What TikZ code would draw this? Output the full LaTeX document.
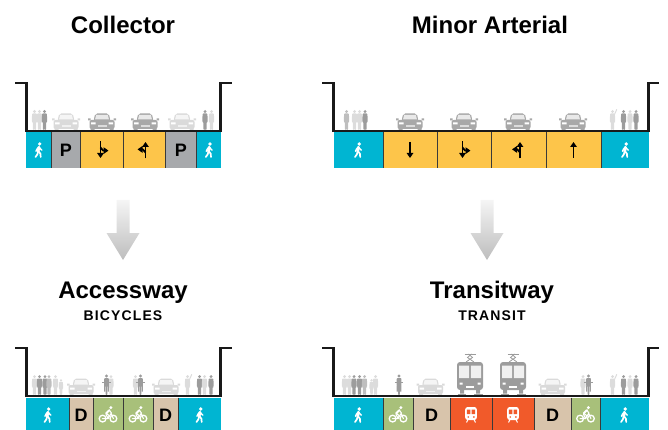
\documentclass[tikz,border=0pt]{standalone}
\usepackage{fontspec}
\setmainfont{Liberation Sans}
\newfontfamily\trackedfont[LetterSpace=8]{Liberation Sans}
\usetikzlibrary{arrows.meta}

\definecolor{pedblue}{HTML}{00B5D2}
\definecolor{parkgray}{HTML}{A7A9AC}
\definecolor{laneyellow}{HTML}{FDC54A}
\definecolor{droptan}{HTML}{D8C4AB}
\definecolor{bikegreen}{HTML}{A8C07A}
\definecolor{transitorange}{HTML}{F15A2A}
\definecolor{sepline}{HTML}{3A3A3A}
\definecolor{figlight}{HTML}{DCDCDC}
\definecolor{figmid}{HTML}{BEBEBE}
\definecolor{figdark}{HTML}{9C9C9C}
\definecolor{carlight}{HTML}{DADADA}
\definecolor{carmid}{HTML}{A8A8A8}
\definecolor{arrowgray}{HTML}{BDBDBD}

\tikzset{
  street/.style={line width=2.8pt, black!90, line join=miter},
  cellsep/.style={line width=0.8pt, sepline},
  title/.style={font=\fontsize{24}{28}\selectfont\bfseries, anchor=base, inner sep=0pt},
  subtitle/.style={font=\fontsize{14}{16}\selectfont\trackedfont\bfseries, anchor=base, inner sep=0pt},
  letterbox/.style={font=\fontsize{18}{20}\selectfont\bfseries, inner sep=0pt},
  lanearrow/.style={line width=1.8pt, line join=round, -{Triangle[length=5pt,width=6.5pt]}},
  pics/person/.style={code={
    \fill[#1] (0,-18.4) circle (1.6pt);
    \fill[#1, rounded corners=0.8pt] (-2.4,-16.5) -- (2.4,-16.5) -- (2.7,-8) -- (1.7,-8)
      -- (1.5,0) -- (0.2,0) -- (0,-6) -- (-0.2,0) -- (-1.5,0) -- (-1.7,-8) -- (-2.7,-8) -- cycle;
  }},
  pics/waver/.style={code={
    \pic {person=#1};
    \draw[#1, line width=1pt, line cap=round] (2,-15.5) -- (4.2,-20.5);
  }},
  pics/rider/.style={code={
    \fill[#1] (0,-19) circle (1.6pt);
    \fill[#1, rounded corners=0.8pt] (-2.3,-17) rectangle (2.3,-8.5);
    \draw[#1, line width=0.8pt] (-4.2,-12.5) -- (4.2,-12.5);
    \fill[#1, rounded corners=0.8pt] (-0.9,-10) rectangle (0.9,0);
    \fill[#1] (-2.3,-9) rectangle (-1.2,-3.5) (1.2,-9) rectangle (2.3,-3.5);
  }},
  pics/car/.style={code={
    \fill[#1, rounded corners=2pt] (-8.5,-9) -- (-6.8,-16.5) -- (6.8,-16.5) -- (8.5,-9) -- cycle;
    \fill[#1, rounded corners=2pt] (-12.5,-10) rectangle (12.5,-1);
    \fill[#1] (-11.5,-2) rectangle (-7.5,1) (7.5,-2) rectangle (11.5,1);
    \fill[#1] (-14,-11.5) rectangle (-11.5,-9.5) (11.5,-11.5) rectangle (14,-9.5);
    \fill[white, opacity=0.75] (-7,-10.5) -- (-5.8,-15) -- (5.8,-15) -- (7,-10.5) -- cycle;
    \fill[white] (-11,-7.5) rectangle (-6.5,-5.5) (6.5,-7.5) rectangle (11,-5.5);
    \fill[white, opacity=0.6] (-4.5,-4.5) rectangle (4.5,-3);
  }},
  pics/tram/.style={code={
    \draw[#1, line width=0.8pt] (-4,-33) -- (2.5,-37.5) -- (-1.5,-41);
    \draw[#1, line width=0.8pt] (4,-33) -- (-2.5,-37.5) -- (1.5,-41);
    \draw[#1, line width=0.9pt] (-5.5,-41) -- (5.5,-41);
    \fill[#1, rounded corners=3pt] (-13,-33) rectangle (13,-5);
    \fill[white, opacity=.85] (-11,-29.5) rectangle (-0.8,-17) (0.8,-29.5) rectangle (11,-17);
    \fill[white] (-10.5,-12.5) rectangle (-7.5,-10.5) (7.5,-12.5) rectangle (10.5,-10.5);
    \fill[white] (-4,-9.5) rectangle (4,-7.5);
    \fill[#1] (-10,-5) rectangle (-6,-1.5) (6,-5) rectangle (10,-1.5);
    \draw[#1, line width=.8pt] (-12.5,-1) -- (-4,-1) (4,-1) -- (12.5,-1);
  }},
  pics/walker/.style={code={
    \fill[white] (1.2,-6) circle (1.8pt);
    \draw[white, line width=2.8pt, line cap=round] (0.4,-2.8) -- (-0.3,1.2);
    \draw[white, line width=1.4pt, line cap=round, line join=round] (0.2,-2.8) -- (-1.7,-0.6) -- (-2.5,1.3);
    \draw[white, line width=1.4pt, line cap=round, line join=round] (0.6,-2.8) -- (2.1,-1) -- (3.4,0.2);
    \draw[white, line width=1.7pt, line cap=round, line join=round] (-0.2,1) -- (1.9,3.7) -- (2.2,7);
    \draw[white, line width=1.7pt, line cap=round, line join=round] (-0.3,1) -- (-1.1,4.3) -- (-3,7);
  }},
  pics/bike/.style={code={
    \draw[white, line width=1.3pt] (-5.4,3.6) circle (3.4pt) (5.4,3.6) circle (3.4pt);
    \draw[white, line width=1.1pt, line join=round, line cap=round]
      (-5.4,3.6) -- (0,3.6) -- (3.2,-1.6) -- (5.4,3.6) (0,3.6) -- (-2,-0.8);
    \draw[white, line width=2pt, line cap=round] (-1.8,-1.6) -- (1.3,-4.8);
    \draw[white, line width=1.1pt, line cap=round] (1.3,-4.8) -- (3.4,-2);
    \draw[white, line width=1.1pt, line cap=round, line join=round] (-1.8,-1.6) -- (1.2,0.6) -- (0,3.6);
    \fill[white] (2.9,-7.4) circle (1.6pt);
  }},
  pics/train/.style={code={
    \fill[white, rounded corners=2.5pt] (-5.8,-8) rectangle (5.8,5);
    \fill[transitorange] (-4.2,-5.5) rectangle (-0.6,-1) (0.6,-5.5) rectangle (4.2,-1);
    \fill[transitorange] (-2.8,2) circle (0.95pt) (2.8,2) circle (0.95pt);
    \draw[white, line width=1pt] (-3,4.5) -- (-4.5,7.5) (3,4.5) -- (4.5,7.5);
  }},
  pics/arrowdown/.style={code={\draw[lanearrow] (0,-8) -- (0,8);}},
  pics/arrowup/.style={code={\draw[lanearrow] (0,8) -- (0,-8);}},
  pics/arrowdownright/.style={code={
    \draw[lanearrow] (0,-8.5) -- (0,8);
    \draw[lanearrow] (0,-2.5) -- (2.6,0.6) -- (8,0.6);
  }},
  pics/arrowupleft/.style={code={
    \draw[lanearrow] (0,8.5) -- (0,-8);
    \draw[lanearrow] (0,2.5) -- (-2.6,-0.6) -- (-8,-0.6);
  }},
}

\begin{document}
\begin{tikzpicture}[x=1pt, y=-1pt]
\useasboundingbox (0,0) rectangle (668,430);

% ---------- titles ----------
\node[title] (tcollector) at (123,34) {Collector};
\node[title] (tminor) at (490,34) {Minor Arterial};
\node[title] (taccess) at (123,298) {Accessway};
\node[subtitle] (saccess) at (123,320) {BICYCLES};
\node[title] (ttransit) at (492,298) {Transitway};
\node[subtitle] (stransit) at (492,320) {TRANSIT};

% ---------- transition arrows ----------
\foreach \ax in {123,487} {
  \shade[top color=white!96!black, bottom color=arrowgray]
    (\ax-6.5,200) -- (\ax+6.5,200) -- (\ax+6.5,233) -- (\ax+16.5,233)
    -- (\ax,260) -- (\ax-16.5,233) -- (\ax-6.5,233) -- cycle;
}

% ---------- Collector ----------
\foreach \xa/\xb/\cc in {26/51/pedblue, 51/80.5/parkgray, 80.5/123/laneyellow,
    123/165/laneyellow, 165/196.5/parkgray, 196.5/221/pedblue}
  \fill[\cc] (\xa,132.5) rectangle (\xb,168);
\foreach \xs in {51,80.5,123,165,196.5}
  \draw[cellsep] (\xs,132.5) -- (\xs,168);
\foreach \px/\pc in {34.5/figlight, 39.5/figlight, 44.5/figdark, 205/figdark, 211.5/figlight}
  \pic at (\px,130) {person=\pc};
\foreach \cx/\cc in {66/carlight, 102/carmid, 145/carmid, 182/carlight}
  \pic at (\cx,130) {car=\cc};
\draw[street] (15,83) -- (26.5,83) -- (26.5,131) -- (220.5,131) -- (220.5,83) -- (232,83);
\pic at (38.5,150) {walker};
\node[letterbox] (cp1) at (65.8,150) {P};
\pic at (100.5,150) {arrowdownright};
\pic at (145.5,150) {arrowupleft};
\node[letterbox] (cp2) at (180.8,150) {P};
\pic at (208.8,150) {walker};

% ---------- Minor Arterial ----------
\foreach \xa/\xb/\cc in {333.5/383/pedblue, 383/437/laneyellow, 437/491/laneyellow,
    491/546/laneyellow, 546/601/laneyellow, 601/648.5/pedblue}
  \fill[\cc] (\xa,132.5) rectangle (\xb,168);
\foreach \xs in {383,437,491,546,601}
  \draw[cellsep] (\xs,132.5) -- (\xs,168);
\foreach \px/\pc in {346.5/figmid, 354.5/figlight, 359.5/figlight, 365/figdark,
    623.5/figdark, 630/figlight, 636/figdark}
  \pic at (\px,130) {person=\pc};
\pic at (612.5,130) {waver=figlight};
\foreach \cx in {410,464,518,573}
  \pic at (\cx,130) {car=carmid};
\draw[street] (322,83) -- (333.5,83) -- (333.5,131) -- (648.5,131) -- (648.5,83) -- (659,83);
\pic at (358,150) {walker};
\pic at (410,150) {arrowdown};
\pic at (462.5,150) {arrowdownright};
\pic at (520,150) {arrowupleft};
\pic at (573.5,150) {arrowup};
\pic at (625,150) {walker};

% ---------- Accessway ----------
\foreach \xa/\xb/\cc in {26/69/pedblue, 69/93/droptan, 93/123/bikegreen,
    123/153/bikegreen, 153/178/droptan, 178/221/pedblue}
  \fill[\cc] (\xa,397.5) rectangle (\xb,430);
\foreach \xs in {69,93,123,153,178}
  \draw[cellsep] (\xs,397.5) -- (\xs,430);
\foreach \px/\pc in {34.5/figlight, 39.5/figdark, 45/figdark, 49/figmid, 55.5/figlight,
    199.5/figdark, 204.5/figlight, 211/figdark, 111/figlight, 135.5/figlight}
  \pic at (\px,395) {person=\pc};
\pic[scale=0.8] at (61,395) {person=figlight};
\pic at (187.5,395) {waver=figlight};
\pic at (106.5,395) {rider=figdark};
\pic at (140.5,395) {rider=figdark};
\foreach \cx in {81,166}
  \pic at (\cx,395) {car=carlight};
\draw[street] (15,348) -- (26.5,348) -- (26.5,396) -- (220.5,396) -- (220.5,348) -- (232,348);
\pic at (47.5,415) {walker};
\node[letterbox] (ad1) at (81,415) {D};
\pic at (108,415) {bike};
\pic at (138,415) {bike};
\node[letterbox] (ad2) at (165.5,415) {D};
\pic at (199.5,415) {walker};

% ---------- Transitway ----------
\foreach \xa/\xb/\cc in {333.5/383/pedblue, 383/413/bikegreen, 413/450/droptan,
    450/492/transitorange, 492/534/transitorange, 534/571/droptan, 571/600/bikegreen,
    600/648.5/pedblue}
  \fill[\cc] (\xa,397.5) rectangle (\xb,430);
\foreach \xs in {383,413,450,492,534,571,600}
  \draw[cellsep] (\xs,397.5) -- (\xs,430);
\foreach \px/\pc in {344.5/figlight, 349.5/figlight, 354/figdark, 359.5/figdark,
    364.5/figmid, 375.5/figlight, 623.5/figdark, 630/figlight, 636/figdark, 583/figlight}
  \pic at (\px,395) {person=\pc};
\pic[scale=0.8] at (371.5,395) {person=figlight};
\pic at (612.5,395) {waver=figlight};
\pic at (399,395) {rider=figdark};
\pic at (588.5,395) {rider=figdark};
\foreach \cx in {430.5,552.5}
  \pic at (\cx,395) {car=carlight};
\foreach \tx in {470,513}
  \pic at (\tx,395) {tram=figdark};
\draw[street] (322,348) -- (333.5,348) -- (333.5,396) -- (648.5,396) -- (648.5,348) -- (659,348);
\pic at (358,415) {walker};
\pic at (398,415) {bike};
\node[letterbox] (td1) at (431.5,415) {D};
\pic at (471,415) {train};
\pic at (513,415) {train};
\node[letterbox] (td2) at (552.5,415) {D};
\pic at (585.5,415) {bike};
\pic at (624,415) {walker};
\end{tikzpicture}
\end{document}
